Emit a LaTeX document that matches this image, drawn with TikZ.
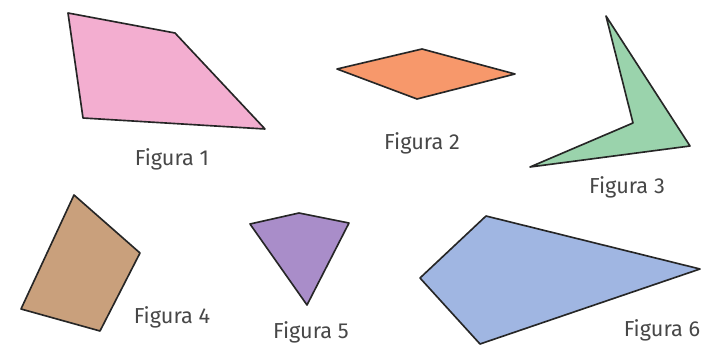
\documentclass[tikz,border=0pt]{standalone}
\usepackage{fontspec}
\setmainfont{Fira Sans}
\usepackage{tikz}
\tikzset{
  fgpoly/.style={draw=black!85, line width=1.4pt, line join=round},
  fglab/.style={font=\fontsize{18.5}{20}\selectfont, text=black!72, inner sep=0pt},
}
\definecolor{fgPinkC}{HTML}{F3AED0}
\definecolor{fgOrangeC}{HTML}{F7986B}
\definecolor{fgGreenC}{HTML}{9AD3AC}
\definecolor{fgTanC}{HTML}{C9A07C}
\definecolor{fgPurpleC}{HTML}{A98DC9}
\definecolor{fgBlueC}{HTML}{A0B6E2}

\begin{document}
\begin{tikzpicture}[x=0.03cm, y=-0.03cm]
  \useasboundingbox (0,0) rectangle (701,346);
  % figures
  \draw[fgpoly, fill=fgPinkC] (68,13) -- (175,33) -- (265,129) -- (83,118) -- cycle;
  \draw[fgpoly, fill=fgOrangeC] (337,69) -- (422,49) -- (515,74) -- (417,99) -- cycle;
  \draw[fgpoly, fill=fgGreenC] (606,16) -- (690,146) -- (530,167) -- (633,123) -- cycle;
  \draw[fgpoly, fill=fgTanC] (74,195) -- (140,253) -- (100,331) -- (21,309) -- cycle;
  \draw[fgpoly, fill=fgPurpleC] (250,224) -- (299,213) -- (349,223) -- (307,305) -- cycle;
  \draw[fgpoly, fill=fgBlueC] (486,216) -- (700,269) -- (480,344) -- (420,278) -- cycle;
  % labels
  \node[fglab] (f1) at (172,159) {Figura 1};
  \node[fglab] (f2) at (422,143) {Figura 2};
  \node[fglab] (f3) at (627,187) {Figura 3};
  \node[fglab] (f4) at (172,317) {Figura 4};
  \node[fglab] (f5) at (311,332) {Figura 5};
  \node[fglab] (f6) at (662,330) {Figura 6};
\end{tikzpicture}
\end{document}
